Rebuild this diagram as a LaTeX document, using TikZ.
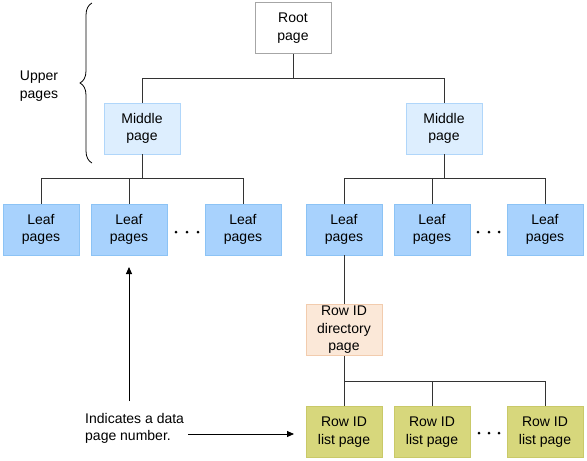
\documentclass[tikz,border=0pt]{standalone}
\usepackage{fontspec}
\setmainfont{Liberation Sans}
\usetikzlibrary{decorations.pathreplacing,arrows.meta}
\begin{document}
\begin{tikzpicture}[x=1pt,y=-1pt,
  font=\fontsize{14}{17.5}\selectfont,
  pagebox/.style={draw, line width=0.9pt, minimum width=76pt, minimum height=51pt, inner sep=1pt, align=center},
  rootbox/.style={pagebox, fill=white, draw=black!35},
  midbox/.style={pagebox, fill=midfill, draw=midline},
  leafbox/.style={pagebox, fill=leaffill, draw=leafline},
  dirbox/.style={pagebox, fill=dirfill, draw=dirline},
  listbox/.style={pagebox, fill=listfill, draw=listline},
  conn/.style={draw=black!80, line width=0.9pt},
  arr/.style={draw=black, line width=0.9pt, -{Triangle[length=7pt,width=6pt]}},
  dot/.style={fill=black, circle, inner sep=0pt, minimum size=3pt}]
\definecolor{midfill}{HTML}{DDEEFE}
\definecolor{midline}{HTML}{B0D6FA}
\definecolor{leaffill}{HTML}{A8D2FD}
\definecolor{leafline}{HTML}{8CC3F5}
\definecolor{dirfill}{HTML}{FBE8D8}
\definecolor{dirline}{HTML}{F2CCAE}
\definecolor{listfill}{HTML}{D7D77C}
\definecolor{listline}{HTML}{C9C968}
\useasboundingbox (0,0) rectangle (587,461);

\node[rootbox] (root) at (293,28) {Root\\page};
\node[midbox] (midL) at (142,128.5) {Middle\\page};
\node[midbox] (midR) at (444,128.5) {Middle\\page};

\node[leafbox] (l1) at (41,229.5) {Leaf\\pages};
\node[leafbox] (l2) at (129,229.5) {Leaf\\pages};
\node[leafbox] (l3) at (243,229.5) {Leaf\\pages};
\node[leafbox] (l4) at (344,229.5) {Leaf\\pages};
\node[leafbox] (l5) at (432,229.5) {Leaf\\pages};
\node[leafbox] (l6) at (545,229.5) {Leaf\\pages};

\node[dirbox] (dir) at (344,330) {Row ID\\directory\\page};

\node[listbox] (r1) at (344,432) {Row ID\\list page};
\node[listbox] (r2) at (432,432) {Row ID\\list page};
\node[listbox] (r3) at (545,432) {Row ID\\list page};

% dots
\node[dot] (d1a) at (176,232) {}; \node[dot] (d1b) at (187,232) {}; \node[dot] (d1c) at (198,232) {};
\node[dot] (d2a) at (478,232) {}; \node[dot] (d2b) at (489,232) {}; \node[dot] (d2c) at (499,232) {};
\node[dot] (d3a) at (479,433) {}; \node[dot] (d3b) at (489,433) {}; \node[dot] (d3c) at (499,433) {};

% buses
\coordinate (b1) at (0,78);
\coordinate (b2) at (0,178.5);
\coordinate (b3) at (0,381);
\draw[conn] (root.south) -- (root.south |- b1);
\draw[conn] (midL.north) |- (midR.north |- b1) -- (midR.north);
\draw[conn] (midL.south) -- (midL.south |- b2);
\draw[conn] (l1.north) |- (l3.north |- b2) -- (l3.north);
\draw[conn] (l2.north) -- (l2.north |- b2);
\draw[conn] (midR.south) -- (midR.south |- b2);
\draw[conn] (l4.north) |- (l6.north |- b2) -- (l6.north);
\draw[conn] (l5.north) -- (l5.north |- b2);
\draw[conn] (l4.south) -- (dir.north);
\draw[conn] (dir.south) -- (r1.north);
\draw[conn] (r1.north |- b3) -| (r3.north);
\draw[conn] (r2.north) -- (r2.north |- b3);

% brace and label
\draw[line width=0.8pt, decorate, decoration={brace, amplitude=12pt}] (92,163) -- (92,3);
\node[align=center] (upper) at (39,86) {Upper\\pages};

% annotation
\node[align=left, anchor=west, inner sep=0pt] (note) at (85,428.5) {Indicates a data\\page number.};
\coordinate (upstart) at (129,401);
\coordinate (uptip) at (129,267);
\draw[arr] (upstart) -- (uptip);
\coordinate (rstart) at (188,434);
\coordinate (rtip) at (294,434);
\draw[arr] (rstart) -- (rtip);
\end{tikzpicture}
\end{document}
